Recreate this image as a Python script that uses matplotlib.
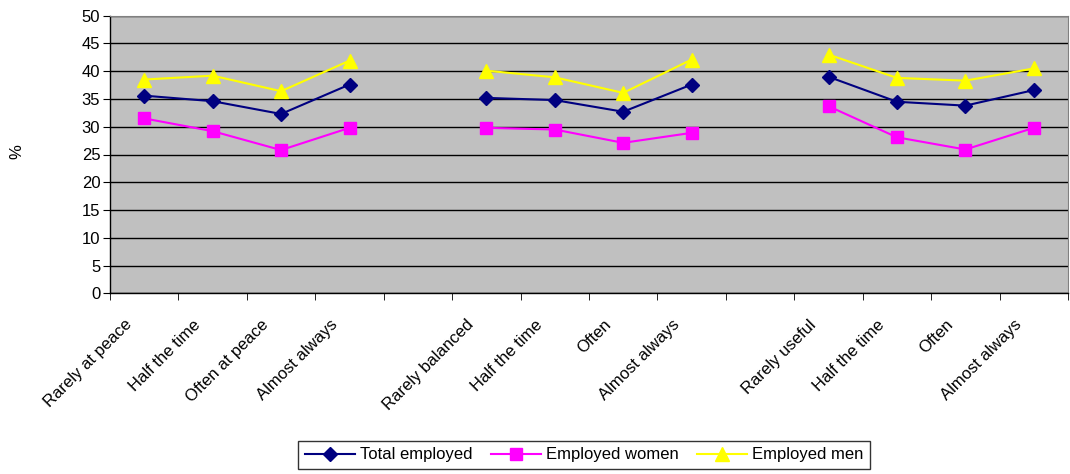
import numpy as np
import matplotlib
matplotlib.use("Agg")
import matplotlib.pyplot as plt
from matplotlib.transforms import ScaledTranslation

plt.rcParams['font.family'] = ['Liberation Sans', 'DejaVu Sans']

categories = ["Rarely at peace", "Half the time", "Often at peace", "Almost always", "",
              "Rarely balanced", "Half the time", "Often", "Almost always", "",
              "Rarely useful", "Half the time", "Often", "Almost always"]

total_employed = [35.6, 34.6, 32.3, 37.6, None,
                  35.2, 34.8, 32.7, 37.6, None,
                  39.0, 34.5, 33.8, 36.6]
employed_women = [31.5, 29.2, 25.8, 29.8, None,
                  29.8, 29.5, 27.1, 28.9, None,
                  33.7, 28.1, 25.9, 29.8]
employed_men = [38.5, 39.2, 36.4, 41.9, None,
                40.1, 38.9, 36.1, 42.1, None,
                43.0, 38.8, 38.3, 40.5]


def arr(vals):
    return np.array([np.nan if v is None else v for v in vals], dtype=float)


fs = 12
fig = plt.figure(figsize=(10.7, 4.74), dpi=100)
ax = fig.add_axes([110 / 1070, 1 - 293.3 / 474, 958 / 1070, 277.6 / 474])
ax.set_facecolor('#C0C0C0')

x = np.arange(len(categories))
ax.plot(x, arr(total_employed), color='#000080', marker='D', markersize=7,
        linewidth=1.5, label='Total employed', zorder=3)
ax.plot(x, arr(employed_women), color='#FF00FF', marker='s', markersize=9,
        linewidth=1.5, label='Employed women', zorder=3)
ax.plot(x, arr(employed_men), color='#FFFF00', marker='^', markersize=10,
        linewidth=1.5, label='Employed men', zorder=3)

ax.set_xlim(-0.5, len(categories) - 0.5)
ax.set_ylim(0, 50)
ax.set_yticks(range(0, 51, 5))
ax.yaxis.grid(True, color='black', linewidth=1)
ax.set_axisbelow(True)

# labels sit at category centres, ticks on category boundaries
ax.set_xticks(x)
ax.set_xticklabels(categories, rotation=45, ha='right', va='top',
                   rotation_mode='anchor', fontsize=fs)
ax.set_xticks(np.arange(-0.5, len(categories)), minor=True)
ax.tick_params(axis='x', which='major', length=0, pad=17)
ax.tick_params(axis='x', which='minor', length=5, direction='out', color='black')
ax.tick_params(axis='y', length=5, direction='out', labelsize=fs, pad=2)
shift = ScaledTranslation(-20 / 100, 0, fig.dpi_scale_trans)
for lbl in ax.get_xticklabels():
    lbl.set_transform(lbl.get_transform() + shift)

for side in ['left', 'bottom']:
    ax.spines[side].set_color('black')
    ax.spines[side].set_linewidth(1)
ax.spines['top'].set_color('#808080')
ax.spines['right'].set_color('#808080')

fig.text(17 / 1070, 1 - 152 / 474, '%', rotation=90, ha='center', va='center', fontsize=fs)

leg = fig.legend(loc='center', bbox_to_anchor=(584 / 1070, 1 - 455 / 474), ncol=3,
                 fontsize=fs, frameon=True, fancybox=False, edgecolor='black',
                 handlelength=3, columnspacing=1.1, handletextpad=0.3, borderpad=0.4)
leg.get_frame().set_linewidth(1)

fig.savefig('out.png', dpi=100)
